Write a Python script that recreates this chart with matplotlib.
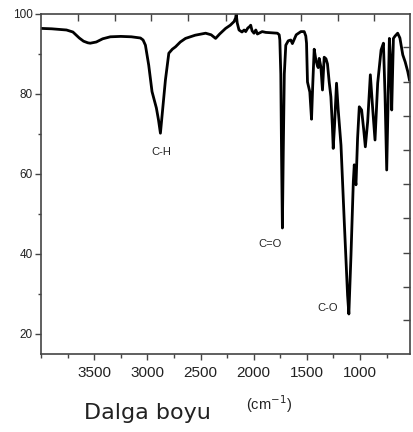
import matplotlib
matplotlib.use("Agg")
import matplotlib.pyplot as plt
from matplotlib.ticker import MultipleLocator

# ---- data ----
wavenumber = [4000, 3900, 3800, 3760, 3700, 3640, 3600, 3560, 3537, 3480, 3420, 3348,
              3250, 3150, 3065, 3040, 3018, 2987, 2956, 2935, 2915, 2895, 2877, 2860,
              2830, 2798, 2765, 2735, 2690, 2641, 2550, 2452, 2400, 2358, 2320, 2264,
              2220, 2185, 2170, 2164, 2155, 2138, 2110, 2090, 2075, 2055, 2040, 2028,
              2015, 1997, 1980, 1965, 1950, 1920, 1886, 1830, 1777, 1760, 1754, 1745,
              1738, 1730, 1722, 1712, 1698, 1675, 1651, 1636, 1600, 1556, 1525, 1510,
              1503, 1494, 1472, 1456, 1445, 1431, 1415, 1400, 1393, 1384, 1368, 1353,
              1337, 1320, 1306, 1290, 1274, 1260, 1252, 1240, 1221, 1205, 1179, 1148,
              1117, 1105, 1085, 1063, 1054, 1045, 1038, 1023, 1007, 985, 965, 950,
              928, 903, 880, 859, 834, 802, 780, 765, 749, 735, 724, 712,
              702, 694, 686, 670, 646, 625, 598, 575, 551, 535]
transmittance = [96.4, 96.3, 96.1, 96.0, 95.5, 94.0, 93.2, 92.8, 92.7, 93.0, 93.8, 94.3,
                 94.4, 94.3, 94.0, 93.5, 92.2, 87.2, 80.6, 78.5, 76.5, 73.5, 70.2, 75.0,
                 83.5, 90.2, 91.2, 91.8, 93.0, 93.9, 94.7, 95.2, 94.8, 93.9, 95.0, 96.4,
                 97.2, 98.1, 99.0, 100.0, 97.8, 96.0, 95.5, 96.0, 95.6, 96.5, 96.8, 97.2,
                 95.8, 95.2, 96.0, 95.0, 95.2, 95.6, 95.4, 95.3, 95.2, 94.8, 93.5, 85.0,
                 65.0, 46.5, 65.0, 85.0, 92.2, 93.3, 93.5, 92.6, 94.8, 95.6, 95.6, 94.5,
                 92.7, 83.0, 80.5, 73.7, 82.0, 91.2, 88.5, 87.0, 86.6, 88.9, 86.8, 81.0,
                 89.2, 88.8, 87.5, 83.0, 79.3, 72.0, 66.4, 72.0, 82.7, 76.0, 67.2, 48.0,
                 29.7, 25.0, 39.7, 58.1, 62.3, 58.5, 57.3, 68.9, 76.8, 76.0, 71.0, 66.8,
                 73.1, 84.8, 76.0, 68.5, 82.7, 91.0, 92.7, 80.0, 61.0, 80.0, 93.9, 88.0,
                 76.0, 85.0, 93.9, 94.5, 95.2, 94.0, 89.8, 88.0, 85.6, 83.5]

x_ticks = [3500, 3000, 2500, 2000, 1500, 1000]
y_ticks = [20, 40, 60, 80, 100]
top_ticks = [3656, 3307, 2961, 2613, 2264, 1902, 1556, 1211, 865]
right_ticks = [91.75, 83.0, 74.5, 66.0, 57.5, 49.0, 40.25, 31.75, 23.5]

peak_labels = ["C-H", "C=O", "C-O"]
peak_label_x = [2864, 1848, 1302]
peak_label_y = [65.6, 42.5, 26.4]

# ---- figure ----
W, H = 414, 432
fig = plt.figure(figsize=(W / 100, H / 100), dpi=100)
fig.patch.set_facecolor("white")
ax = fig.add_axes([41 / W, 1 - 354 / H, 369 / W, 340 / H])

ax.plot(wavenumber, transmittance, color="black", lw=2.0, solid_joinstyle="round")

ax.set_xlim(4000, 530)
ax.set_ylim(15, 100)

spine_c = "#444444"
for s in ax.spines.values():
    s.set_color(spine_c)
    s.set_linewidth(1.2)

narrow = ["Liberation Sans Narrow", "DejaVu Sans Condensed", "Liberation Sans"]

ax.set_xticks(x_ticks)
ax.xaxis.set_minor_locator(MultipleLocator(250))
ax.set_yticks(y_ticks)
ax.yaxis.set_minor_locator(MultipleLocator(10))
ax.tick_params(axis="x", which="major", direction="out", length=4.5, width=1, color=spine_c,
               pad=4, labelsize=11, labelcolor="#222222", top=False)
ax.tick_params(axis="x", which="minor", direction="out", length=3, width=1, color=spine_c, top=False)
ax.tick_params(axis="y", which="major", direction="out", length=4, width=1, color=spine_c,
               pad=2, labelsize=8.5, labelcolor="#222222", right=False)
ax.tick_params(axis="y", which="minor", direction="out", length=2, width=1, color=spine_c, right=False)
for lab in ax.get_xticklabels():
    lab.set_family(narrow)
for lab in ax.get_yticklabels():
    lab.set_family(["Liberation Sans", "DejaVu Sans"])

secx = ax.secondary_xaxis("top")
secx.set_xticks(top_ticks)
secx.set_xticklabels([])
secx.tick_params(direction="in", length=5, width=1, color=spine_c)
secx.spines["top"].set_visible(False)

secy = ax.secondary_yaxis("right")
secy.set_yticks(right_ticks)
secy.set_yticklabels([])
secy.tick_params(direction="in", length=5, width=1, color=spine_c)
secy.spines["right"].set_visible(False)

for t, xv, yv in zip(peak_labels, peak_label_x, peak_label_y):
    ax.text(xv, yv, t, ha="center", va="center", fontsize=8, color="#222222",
            family=["Liberation Sans", "DejaVu Sans"])

fig.text(84 / W, 1 - 419.3 / H, "Dalga boyu", ha="left", va="baseline",
         fontsize=16, color="#222222", family="DejaVu Sans")
fig.text(269 / W, 1 - 404 / H, "(cm$^{-1}$)", ha="center", va="center",
         fontsize=10.5, color="#222222", family=["Liberation Sans", "DejaVu Sans"])

fig.savefig("out.png", dpi=100)
